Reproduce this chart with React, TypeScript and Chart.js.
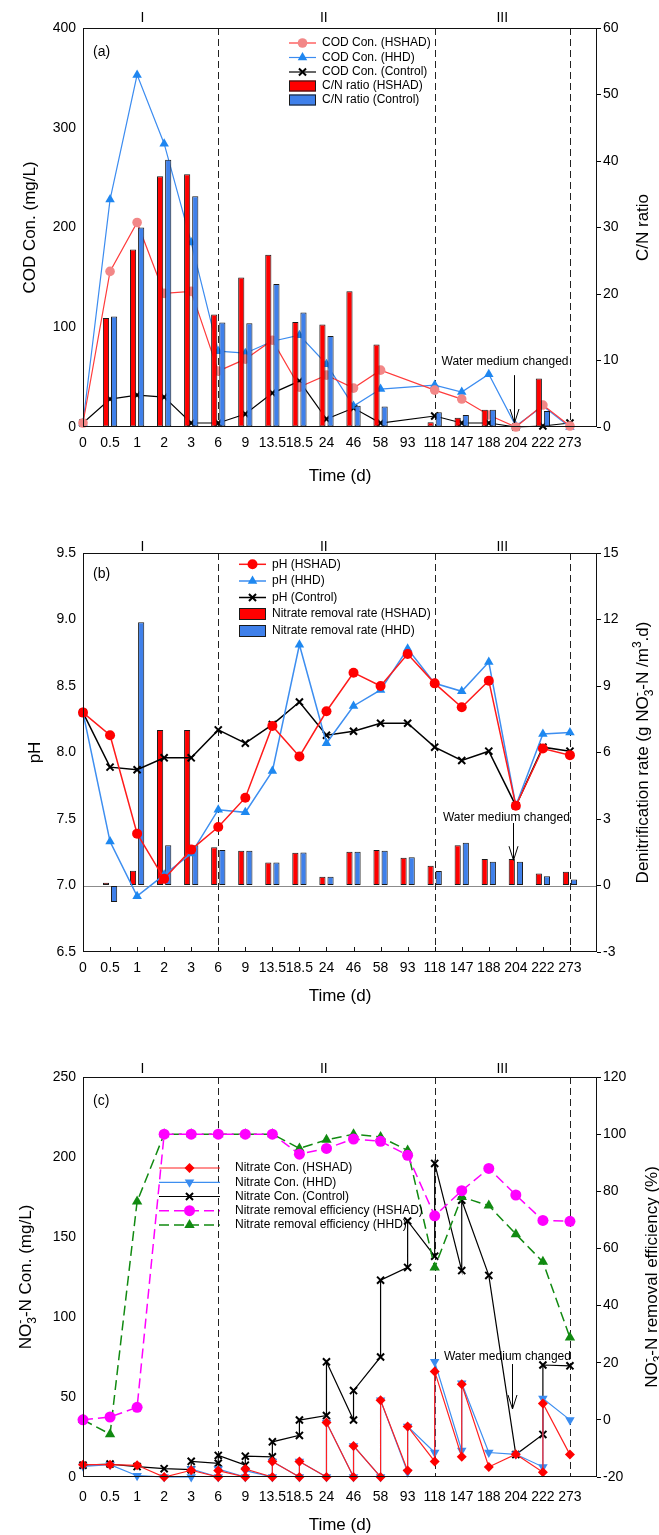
import React, { useEffect, useRef } from 'react';
import { Chart, registerables } from 'chart.js';

Chart.register(...registerables);

const FONT = "'Liberation Sans', Arial, Helvetica, sans-serif";
Chart.defaults.font.family = FONT;
Chart.defaults.color = '#000';

// ---------- shared ----------
const timeLabels = ['0', '0.5', '1', '2', '3', '6', '9', '13.5', '18.5', '24', '46', '58', '93', '118', '147', '188', '204', '222', '273'];
const dividerIdx = [5, 13, 18];
const romanLabels = ['I', 'II', 'III'];
const romanPos = [2.2, 8.9, 15.5];
const noteText = 'Water medium changed';

// ---------- (a) ----------
const codHSHAD = [4, 156, 205, 134, 136, 56, 68, 87, 40, 52, 39, 57, null, 37, 28, 12, 0, 22, 1];
const codHHD = [4, 228, 353, 284, 185, 76, 74, 86, 92, 63, 21, 38, null, 42, 35, 53, 1, 21, 0];
const codControl = [4, 28, 32, 30, 4, 4, 13, 34, 46, 8, 19, 4, null, 11, 4, 4, 0, 1, 4];
const cnHSHAD = [null, 16.4, 26.7, 37.7, 38, 16.9, 22.5, 25.9, 15.8, 15.4, 20.4, 12.4, null, 0.7, 1.4, 2.6, null, 7.3, null];
const cnControl = [null, 16.6, 30, 40.2, 34.7, 15.7, 15.6, 21.5, 17.2, 13.7, 3.2, 3.1, null, 2.2, 1.8, 2.6, null, 2.4, null];

// ---------- (b) ----------
const phHSHAD = [8.30, 8.13, 7.39, 7.05, 7.27, 7.44, 7.66, 8.20, 7.97, 8.31, 8.60, 8.50, 8.74, 8.52, 8.34, 8.54, 7.60, 8.03, 7.98];
const phHHD = [8.30, 7.33, 6.92, 7.08, 7.24, 7.57, 7.55, 7.86, 8.81, 8.07, 8.35, 8.47, 8.78, 8.52, 8.46, 8.68, 7.60, 8.14, 8.15];
const phControl = [8.30, 7.89, 7.87, 7.96, 7.96, 8.17, 8.07, 8.21, 8.38, 8.13, 8.16, 8.22, 8.22, 8.04, 7.94, 8.01, 7.60, 8.04, 8.01];
const rateHSHAD = [null, 0.12, 0.66, 7.02, 7.02, 1.72, 1.57, 1.04, 1.48, 0.39, 1.52, 1.60, 1.25, 0.89, 1.82, 1.19, 1.19, 0.54, 0.62];
const rateHHD = [null, -0.74, 11.88, 1.82, 1.82, 1.60, 1.57, 1.04, 1.49, 0.39, 1.52, 1.57, 1.27, 0.65, 1.93, 1.07, 1.07, 0.42, 0.27];

// ---------- (c) ----------
// concentration on arrival at each time, and after the medium refill (null = no refill)
const no3HSHADBefore = [7.7, 7.7, 7.3, 0, 4.2, 0, 0, 0, 0, 0, 0, 0, 4, 9.7, 12.6, 6.3, 14.2, 3, 14];
const no3HSHADAfter = [null, null, null, null, null, 4, 5, 9.7, 9.7, 34, 19.4, 48, 31.6, 66, 58, null, null, 46, null];
const no3HHDBefore = [6.7, 7.7, 0.8, 0, 0, 0, 0, 0, 0, 0, 0, 0, 3, 15.3, 16.5, 15.3, 14.2, 6.3, 35.7];
const no3HHDAfter = [null, null, null, null, 5, 5, 4, 9.7, 9.7, 34, 19.4, 48, 31.6, 72, 58.6, null, null, 49, null];
const no3ControlBefore = [7.4, 8.1, 6.5, 5.2, 4.6, 8.6, 7.4, 12.6, 26, 38.4, 35.6, 75, 131, 138, 129, 126, 14, 26.6, 69.5];
const no3ControlAfter = [null, null, null, null, 9.8, 13.5, 13, 22, 35.6, 72, 54, 123, 160, 196, 173, null, null, 70, null];
const effHSHAD = [0, 1, 4.4, 100, 100, 100, 100, 100, 93, 95, 98.3, 97.5, 92.6, 71.4, 80.2, 88, 78.7, 69.8, 69.5];
const effHHD = [0, -5, 76.4, 100, 100, 100, 100, 100, 95, 98, 100, 99, 94.3, 53.3, 78, 75, 65, 55.3, 28.8];

// ---------- helpers ----------
const pts = (arr: (number | null)[]) => arr.map((v, i) => ({ x: i, y: v }));
function sawtooth(before: number[], after: (number | null)[]) {
  const out: { x: number; y: number }[] = [];
  before.forEach((v, i) => {
    out.push({ x: i, y: v });
    const a = after[i];
    if (a !== null && a !== undefined) out.push({ x: i, y: a });
  });
  return out;
}

type Seg = { t?: string; sub?: string; sup?: string };

function drawRich(ctx: CanvasRenderingContext2D, segs: Seg[], cx: number, cy: number, size: number) {
  const small = Math.round(size * 0.68);
  const fN = `${size}px ${FONT}`;
  const fS = `${small}px ${FONT}`;
  const widths = segs.map((s) => {
    if (s.t !== undefined) { ctx.font = fN; return ctx.measureText(s.t).width; }
    ctx.font = fS;
    return Math.max(s.sub ? ctx.measureText(s.sub).width : 0, s.sup ? ctx.measureText(s.sup).width : 0);
  });
  const total = widths.reduce((a, b) => a + b, 0);
  ctx.save();
  ctx.translate(cx, cy);
  ctx.rotate(-Math.PI / 2);
  ctx.fillStyle = '#000';
  ctx.textAlign = 'left';
  ctx.textBaseline = 'alphabetic';
  let x = -total / 2;
  const base = size * 0.36;
  segs.forEach((s, i) => {
    if (s.t !== undefined) { ctx.font = fN; ctx.fillText(s.t, x, base); }
    else {
      ctx.font = fS;
      if (s.sub) ctx.fillText(s.sub, x, base + size * 0.28);
      if (s.sup) ctx.fillText(s.sup, x, base - size * 0.42);
    }
    x += widths[i];
  });
  ctx.restore();
}

function drawMarker(ctx: CanvasRenderingContext2D, style: string, x: number, y: number, r: number, fill: string, stroke: string, lw: number, rotDeg: number) {
  ctx.save();
  ctx.translate(x, y);
  ctx.rotate((rotDeg * Math.PI) / 180);
  ctx.beginPath();
  ctx.fillStyle = fill;
  ctx.strokeStyle = stroke;
  ctx.lineWidth = lw;
  if (style === 'crossRot') {
    const d = r * Math.SQRT1_2;
    ctx.moveTo(-d, -d); ctx.lineTo(d, d); ctx.moveTo(d, -d); ctx.lineTo(-d, d);
    ctx.stroke();
    ctx.restore();
    return;
  }
  if (style === 'circle') ctx.arc(0, 0, r, 0, Math.PI * 2);
  else if (style === 'triangle') {
    for (let k = 0; k < 3; k++) {
      const a = (k * 2 * Math.PI) / 3;
      const px = Math.sin(a) * r, py = -Math.cos(a) * r;
      if (k === 0) ctx.moveTo(px, py); else ctx.lineTo(px, py);
    }
    ctx.closePath();
  } else if (style === 'rectRot') {
    ctx.moveTo(0, -r); ctx.lineTo(r, 0); ctx.lineTo(0, r); ctx.lineTo(-r, 0); ctx.closePath();
  }
  ctx.fill();
  if (lw > 0) ctx.stroke();
  ctx.restore();
}

type Decor = {
  letter: string; letterY: number; romanDy: number;
  legend: { x0: number; x1: number; tx: number; rows: number[]; boxH: number };
  note: { tx: number; ty: number; ax: number; ay0: number; ay1: number };
  rightTitle: Seg[]; rightTitleX: number;
  leftTitle?: Seg[]; leftTitleX?: number;
  zeroLine?: boolean; innerTicks?: boolean;
};

function decorPlugin(d: Decor) {
  return {
    id: 'decor',
    beforeDatasetsDraw(chart: any) {
      const { ctx, chartArea: a, scales } = chart;
      ctx.save();
      if (d.zeroLine) {
        const y = Math.round(scales.y1.getPixelForValue(0)) + 0.5;
        ctx.strokeStyle = '#8c8c8c';
        ctx.lineWidth = 1;
        ctx.beginPath(); ctx.moveTo(a.left, y); ctx.lineTo(a.right, y); ctx.stroke();
      }
      ctx.strokeStyle = '#222';
      ctx.lineWidth = 1;
      ctx.setLineDash([7, 4]);
      dividerIdx.forEach((v) => {
        const x = Math.round(scales.x.getPixelForValue(v)) + 0.5;
        ctx.beginPath(); ctx.moveTo(x, a.top); ctx.lineTo(x, a.bottom); ctx.stroke();
      });
      ctx.restore();
    },
    afterDatasetsDraw(chart: any) {
      const { ctx, chartArea: a, scales } = chart;
      ctx.save();
      ctx.strokeStyle = '#111';
      ctx.lineWidth = 1;
      ctx.strokeRect(a.left + 0.5, a.top + 0.5, a.right - a.left - 1, a.bottom - a.top - 1);
      if (d.innerTicks) {
        ctx.beginPath();
        for (let i = 1; i < timeLabels.length; i++) {
          const x = Math.round(scales.x.getPixelForValue(i)) + 0.5;
          ctx.moveTo(x, a.bottom); ctx.lineTo(x, a.bottom - 5);
        }
        ctx.stroke();
      }
      ctx.restore();
    },
    afterDraw(chart: any) {
      const { ctx, chartArea: a, scales } = chart;
      const sx = scales.x, sy = scales.y;
      ctx.save();
      ctx.fillStyle = '#000';
      // roman phase labels
      ctx.font = `14px ${FONT}`;
      ctx.textAlign = 'center';
      ctx.textBaseline = 'middle';
      romanLabels.forEach((t, i) => ctx.fillText(t, sx.getPixelForValue(romanPos[i]), a.top + d.romanDy));
      // panel letter
      ctx.textAlign = 'left';
      ctx.fillText(d.letter, a.left + 10, d.letterY);
      // note + arrow
      ctx.font = `12px ${FONT}`;
      ctx.textAlign = 'center';
      ctx.fillText(noteText, sx.getPixelForValue(d.note.tx), sy.getPixelForValue(d.note.ty));
      const ax = Math.round(sx.getPixelForValue(d.note.ax)) + 0.5;
      const y0 = sy.getPixelForValue(d.note.ay0), y1 = sy.getPixelForValue(d.note.ay1);
      ctx.strokeStyle = '#000';
      ctx.lineWidth = 1;
      ctx.beginPath();
      ctx.moveTo(ax, y0); ctx.lineTo(ax, y1);
      ctx.moveTo(ax - 4.5, y1 - 14); ctx.lineTo(ax, y1); ctx.lineTo(ax + 4.5, y1 - 14);
      ctx.stroke();
      // legend
      const L = d.legend;
      chart.data.datasets.forEach((ds: any, k: number) => {
        const y = L.rows[k];
        if (ds.type === 'bar') {
          ctx.fillStyle = ds.backgroundColor;
          ctx.fillRect(L.x0, y - L.boxH / 2, L.x1 - L.x0, L.boxH);
          ctx.strokeStyle = ds.borderColor;
          ctx.lineWidth = 1;
          ctx.strokeRect(L.x0 + 0.5, y - L.boxH / 2 + 0.5, L.x1 - L.x0 - 1, L.boxH - 1);
        } else {
          ctx.strokeStyle = ds.borderColor;
          ctx.lineWidth = ds.borderWidth;
          ctx.setLineDash(ds.borderDash || []);
          ctx.beginPath(); ctx.moveTo(L.x0, y); ctx.lineTo(L.x1, y); ctx.stroke();
          ctx.setLineDash([]);
          drawMarker(ctx, ds.pointStyle, (L.x0 + L.x1) / 2, y, ds.pointRadius, ds.pointBackgroundColor, ds.pointBorderColor, ds.pointBorderWidth, ds.pointRotation || 0);
        }
        ctx.fillStyle = '#000';
        ctx.font = `12px ${FONT}`;
        ctx.textAlign = 'left';
        ctx.textBaseline = 'middle';
        ctx.fillText(ds.label, L.tx, y);
      });
      // rotated titles with sub/superscripts
      const cy = (a.top + a.bottom) / 2;
      drawRich(ctx, d.rightTitle, d.rightTitleX, cy, 17);
      if (d.leftTitle && d.leftTitleX !== undefined) drawRich(ctx, d.leftTitle, d.leftTitleX, cy, 17);
      ctx.restore();
    },
  };
}

function xAxis(axisH: number, labelPad: number, titlePad: number) {
  return {
    type: 'linear', min: 0, max: 19, offset: false,
    afterBuildTicks: (s: any) => { s.ticks = timeLabels.map((_, i) => ({ value: i })); },
    afterFit: (s: any) => { s.height = axisH; },
    ticks: {
      autoSkip: false, maxRotation: 0, minRotation: 0, padding: labelPad, color: '#000', font: { size: 14 },
      callback: (v: any) => timeLabels[Math.round(v)] ?? '',
    },
    grid: { display: false, drawTicks: false },
    border: { display: false },
    title: { display: true, text: 'Time (d)', color: '#000', font: { size: 17, lineHeight: 1 }, padding: { top: 0, bottom: titlePad } },
  };
}
function leftAxis(min: number, max: number, step: number, fmt: (v: any) => string, title: string | null, titlePad: number) {
  return {
    type: 'linear', position: 'left', min, max,
    afterFit: (s: any) => { s.width = 83; },
    ticks: { stepSize: step, padding: 7, color: '#000', font: { size: 14 }, callback: fmt },
    grid: { display: false, drawTicks: false },
    border: { display: false },
    title: title
      ? { display: true, text: title, color: '#000', font: { size: 17, lineHeight: 1 }, padding: { top: titlePad, bottom: 0 } }
      : { display: false },
  };
}
function rightAxis(min: number, max: number, step: number, fmt: (v: any) => string) {
  return {
    type: 'linear', position: 'right', min, max,
    afterFit: (s: any) => { s.width = 62; },
    ticks: { stepSize: step, padding: 2, color: '#000', font: { size: 14 }, callback: fmt },
    grid: { display: true, drawOnChartArea: false, drawTicks: true, tickLength: 4, color: '#000' },
    border: { display: false },
    title: { display: false },
  };
}

const commonOpts = (padTop: number) => ({
  responsive: false,
  maintainAspectRatio: false,
  devicePixelRatio: 1,
  animation: false,
  events: [],
  layout: { padding: { top: padTop, left: 0, right: 0, bottom: 0 } },
  plugins: { legend: { display: false }, tooltip: { enabled: false } },
});

const intFmt = (v: any) => String(v);
const oneDec = (v: any) => Number(v).toFixed(1);

const lineDs = (label: string, data: any, color: string, mColor: string, style: string, r: number, extra: any = {}) => ({
  type: 'line', label, data, borderColor: color, borderWidth: 1.2, pointStyle: style, pointRadius: r,
  pointBackgroundColor: mColor, pointBorderColor: mColor, pointBorderWidth: 0, spanGaps: true, clip: false,
  tension: 0, yAxisID: 'y', order: 1, ...extra,
});
const xDs = (label: string, data: any, extra: any = {}) => ({
  type: 'line', label, data, borderColor: '#000', borderWidth: 1.2, pointStyle: 'crossRot', pointRadius: 5,
  pointBackgroundColor: '#000', pointBorderColor: '#000', pointBorderWidth: 2, spanGaps: true, clip: false,
  tension: 0, yAxisID: 'y', order: 1, ...extra,
});
const barDs = (label: string, data: any, color: string, order: number) => ({
  type: 'bar', label, data, backgroundColor: color, borderColor: '#1a1a1a', borderWidth: 1, borderSkipped: false,
  categoryPercentage: 0.6, barPercentage: 0.76, yAxisID: 'y1', order,
});

const RED = '#ff0000';
const BLUE = '#3f80ea';

function configA(): any {
  return {
    type: 'line',
    data: {
      datasets: [
        lineDs('COD Con. (HSHAD)', pts(codHSHAD), '#ff3b3b', '#f28787', 'circle', 4.8),
        lineDs('COD Con. (HHD)', pts(codHHD), '#3c8cf0', '#1f86f0', 'triangle', 5.5),
        xDs('COD Con. (Control)', pts(codControl)),
        barDs('C/N ratio (HSHAD)', pts(cnHSHAD), RED, 0),
        barDs('C/N ratio (Control)', pts(cnControl), BLUE, 0),
      ],
    },
    options: {
      ...commonOpts(28),
      scales: {
        x: xAxis(98, 8, 40.5),
        y: leftAxis(0, 400, 100, intFmt, 'COD Con. (mg/L)', 21.5),
        y1: rightAxis(0, 60, 10, intFmt),
      },
    },
    plugins: [decorPlugin({
      letter: '(a)', letterY: 52, romanDy: -10,
      legend: { x0: 289, x1: 316, tx: 322, rows: [43, 57.5, 72, 86, 100], boxH: 11 },
      note: { tx: 15.6, ty: 65, ax: 15.95, ay0: 52, ay1: 4 },
      rightTitle: [{ t: 'C/N ratio' }], rightTitleX: 642,
    })],
  };
}

function configB(): any {
  return {
    type: 'line',
    data: {
      datasets: [
        lineDs('pH (HSHAD)', pts(phHSHAD), '#ff1a1a', RED, 'circle', 5, { borderWidth: 1.5, order: 0 }),
        lineDs('pH (HHD)', pts(phHHD), '#3d8ef0', '#1e88f0', 'triangle', 5.5, { borderWidth: 1.5, order: 0 }),
        xDs('pH (Control)', pts(phControl), { borderWidth: 1.5, order: 0 }),
        barDs('Nitrate removal rate (HSHAD)', pts(rateHSHAD), RED, 1),
        barDs('Nitrate removal rate (HHD)', pts(rateHHD), BLUE, 1),
      ],
    },
    options: {
      ...commonOpts(28),
      scales: {
        x: xAxis(98, 8, 45.5),
        y: leftAxis(6.5, 9.5, 0.5, oneDec, 'pH', 26.5),
        y1: rightAxis(-3, 15, 3, intFmt),
      },
    },
    plugins: [decorPlugin({
      letter: '(b)', letterY: 49, romanDy: -6,
      legend: { x0: 239, x1: 266, tx: 272, rows: [39.3, 56, 72.5, 89, 106], boxH: 12 },
      note: { tx: 15.65, ty: 7.507, ax: 15.9, ay0: 7.47, ay1: 7.19 },
      rightTitle: [{ t: 'Denitrification rate (g NO' }, { sub: '3', sup: '-' }, { t: '-N /m' }, { sup: '3' }, { t: '.d)' }],
      rightTitleX: 642,
      zeroLine: true, innerTicks: true,
    })],
  };
}

function configC(): any {
  return {
    type: 'line',
    data: {
      datasets: [
        lineDs('Nitrate Con. (HSHAD)', sawtooth(no3HSHADBefore, no3HSHADAfter), '#ff2020', RED, 'rectRot', 5),
        lineDs('Nitrate Con. (HHD)', sawtooth(no3HHDBefore, no3HHDAfter), '#3d8ef0', '#3a8cf0', 'triangle', 5.5, { pointRotation: 180 }),
        xDs('Nitrate Con. (Control)', sawtooth(no3ControlBefore, no3ControlAfter)),
        lineDs('Nitrate removal efficiency (HSHAD)', pts(effHSHAD), '#ff00ff', '#ff00ff', 'circle', 5.5,
          { borderWidth: 1.5, borderDash: [10, 5], yAxisID: 'y1', order: 0 }),
        lineDs('Nitrate removal efficiency (HHD)', pts(effHHD), '#118a11', '#118a11', 'triangle', 6,
          { borderWidth: 1.5, borderDash: [10, 5], yAxisID: 'y1', order: 0 }),
      ],
    },
    options: {
      ...commonOpts(27),
      scales: {
        x: xAxis(58, 11.6, 1.5),
        y: leftAxis(0, 250, 50, intFmt, null, 0),
        y1: rightAxis(-20, 120, 20, intFmt),
      },
    },
    plugins: [decorPlugin({
      letter: '(c)', letterY: 51.5, romanDy: -8,
      legend: { x0: 159, x1: 220, tx: 235, rows: [118, 132.3, 146.5, 160.7, 175], boxH: 11 },
      note: { tx: 15.69, ty: 75, ax: 15.84, ay0: 70.6, ay1: 42.5 },
      rightTitle: [{ t: 'NO' }, { sub: '3', sup: '-' }, { t: '-N removal efficiency (%)' }], rightTitleX: 651,
      leftTitle: [{ t: 'NO' }, { sub: '3', sup: '-' }, { t: '-N Con. (mg/L)' }], leftTitleX: 25,
    })],
  };
}

export default function App() {
  const refA = useRef<HTMLCanvasElement>(null);
  const refB = useRef<HTMLCanvasElement>(null);
  const refC = useRef<HTMLCanvasElement>(null);
  useEffect(() => {
    const charts = [
      new Chart(refA.current as HTMLCanvasElement, configA()),
      new Chart(refB.current as HTMLCanvasElement, configB()),
      new Chart(refC.current as HTMLCanvasElement, configC()),
    ];
    return () => charts.forEach((c) => c.destroy());
  }, []);
  const cv = (top: number, h: number): React.CSSProperties => ({ position: 'absolute', left: 0, top, width: 659, height: h });
  return (
    <div style={{ position: 'absolute', left: 0, top: 0, width: 659, height: 1535, background: '#fff' }}>
      <canvas ref={refA} width={659} height={525} style={cv(0, 525)} />
      <canvas ref={refB} width={659} height={525} style={cv(525, 525)} />
      <canvas ref={refC} width={659} height={485} style={cv(1050, 485)} />
    </div>
  );
}
